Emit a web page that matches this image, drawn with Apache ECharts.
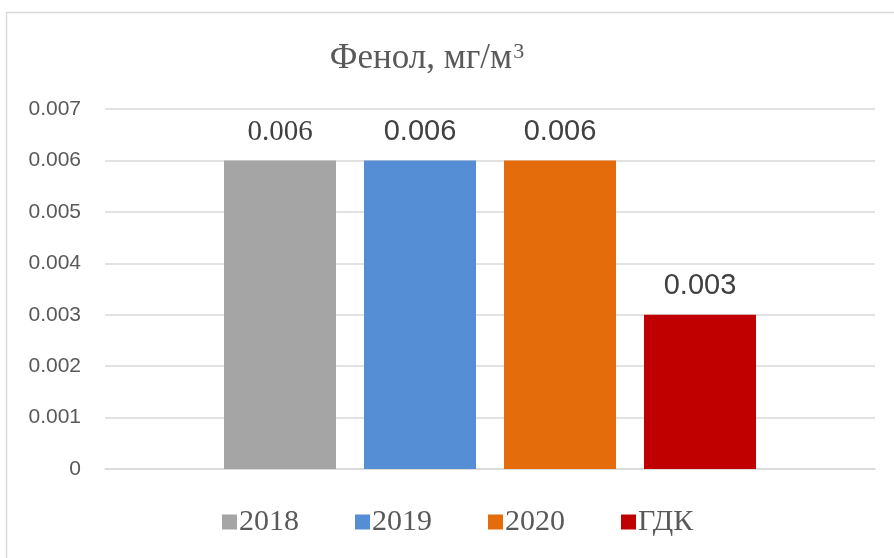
<!DOCTYPE html>
<html>
<head>
<meta charset="utf-8">
<script src="https://cdn.jsdelivr.net/npm/echarts@6/dist/echarts.min.js"></script>
<style>
  html, body { margin: 0; padding: 0; background: #fff; }
  #chart { width: 894px; height: 558px; }
</style>
</head>
<body>
<div id="chart"></div>
<script>
// Фенол, мг/м3 — one category, one bar per series
var categories = ['Фенол'];
var seriesNames = ['2018', '2019', '2020', 'ГДК'];
var seriesValues = [0.006, 0.006, 0.006, 0.003];
var seriesColors = ['#a5a5a5', '#558ed5', '#e46c0a', '#c00000'];
var yTicks = { min: 0, max: 0.007, step: 0.001 };

var sans = '"Liberation Sans", Arial, sans-serif';
var serif = '"Liberation Serif", "Times New Roman", serif';

var myChart = echarts.init(document.getElementById('chart'));

var series = seriesNames.map(function (name, i) {
    return {
        name: name,
        type: 'bar',
        data: [seriesValues[i]],
        barWidth: 112,
        barGap: '25%',
        itemStyle: { color: seriesColors[i] },
        label: {
            show: true,
            position: 'top',
            distance: 14,
            color: '#404040',
            fontSize: 29,
            fontFamily: i === 0 ? serif : sans,
            formatter: function (p) { return p.value.toFixed(3); }
        }
    };
});

myChart.setOption({
    animation: false,
    title: {
        text: '{t|Фенол, мг/м}{s|3}',
        left: 422,
        top: 36,
        textAlign: 'center',
        textStyle: {
            fontWeight: 'normal',
            rich: {
                t: { fontFamily: serif, fontSize: 35, fontWeight: 'normal', color: '#595959' },
                s: { fontFamily: serif, fontSize: 22, fontWeight: 'normal', color: '#595959', verticalAlign: 'top', padding: [0, 0, 12, 1] }
            }
        }
    },
    graphic: [{
        type: 'rect',
        shape: { x: 6.5, y: 12.5, width: 900, height: 560 },
        style: { fill: 'none', stroke: '#d9d9d9', lineWidth: 1.5 },
        silent: true
    }],
    legend: {
        data: seriesNames,
        left: 217,
        top: 502,
        icon: 'rect',
        itemWidth: 15,
        itemHeight: 15,
        itemGap: 56,
        textStyle: { fontFamily: serif, fontSize: 30, color: '#595959', padding: [0, 0, 0, -3] }
    },
    grid: { left: 105, top: 109, width: 770, height: 360, containLabel: false },
    xAxis: {
        type: 'category',
        data: categories,
        axisLine: { lineStyle: { color: '#d9d9d9', width: 1.5 } },
        axisTick: { show: false },
        axisLabel: { show: false }
    },
    yAxis: {
        type: 'value',
        min: yTicks.min,
        max: yTicks.max,
        interval: yTicks.step,
        axisLine: { show: false },
        axisTick: { show: false },
        splitLine: { lineStyle: { color: '#d9d9d9', width: 1.5 } },
        axisLabel: {
            margin: 24,
            color: '#595959',
            fontSize: 21,
            fontFamily: sans,
            formatter: function (v) { return v === 0 ? '0' : v.toFixed(3); }
        }
    },
    series: series
});
</script>
</body>
</html>
